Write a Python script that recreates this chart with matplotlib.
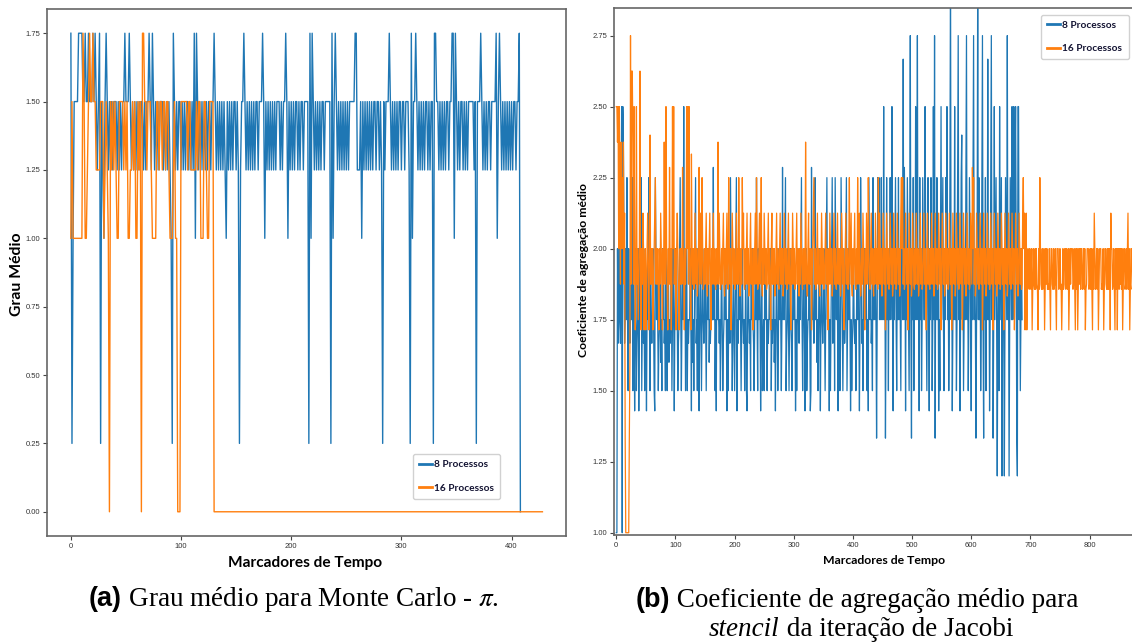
import numpy as np
import matplotlib
matplotlib.use("Agg")
import matplotlib.pyplot as plt
from matplotlib.offsetbox import TextArea, HPacker, AnnotationBbox

plt.rcParams['mathtext.fontset'] = 'stix'

# ---- (a) Monte Carlo - pi : grau medio, one char per time marker ----
levels_a = {'0': 0.0, 'q': 0.25, '4': 1.0, '5': 1.25, '6': 1.5, '7': 1.75}

blue_a = ("7q46666777" "7667667666" "7676567q65" "4676565656" "6656565667"
          "6667656565" "6565665656" "6765765656" "5666565656" "54q7656566"
          "5656566565" "6574765656" "5656566566" "7656565656" "5465656566"
          "565q566765" "6565656566" "5666764656" "5656565666" "5656676465"
          "6565665656" "656666q747" "6565656566" "566666q746" "7656565656"
          "5656666677" "5556465656" "5656566566" "565q656667" "6565656566"
          "56656665q7" "4667656565" "656656566q" "7766565656" "5665667747"
          "6565665656" "56666656q6" "6676565656" "6566667467" "6565656565"
          "656656670")

orange_a = ("4644444444" "4764456766" "7665555666" "4565406565" "6544666656"
            "5644556564" "4656077665" "6665444466" "5665665665" "4445644000"
            "6666665665" "5555656644" "4665446666")
orange_a_zero_tail = 299   # flat at 0 from marker 130 to 428

# ---- (b) stencil Jacobi : coeficiente de agregacao medio ----
levels_b = {'a': 1.0, 'b': 1.2, 'c': 1.333, 'd': 1.429, 'e': 1.5, 'f': 1.6,
            'g': 1.667, 'h': 1.714, 'i': 1.75, 'j': 1.8, 'k': 1.833,
            'l': 1.857, 'm': 1.875, 'n': 2.0, 'o': 2.125, 'p': 2.25,
            'q': 2.286, 'r': 2.333, 's': 2.375, 't': 2.4, 'u': 2.5,
            'v': 2.625, 'w': 2.667, 'x': 2.75, 'y': 2.9, 'z': 3.0}

blue_b = ("aanginignu" "ausnginipi" "eniginipen" "idinegindi" "nipeingien"
          "idinipieni" "giniedpnin" "ieginfieni" "ngiepieinf" "igineinidi"
          "ninieginpi" "einiuinein" "eigiinidnf" "ieinpgieni" "dinieinigi"
          "nieininfig" "iniiqineid" "ninigieini" "egininidie" "ingpniegni"
          "einpdignin" "ieinigiein" "edinigieni" "nigeinipie" "ninidinegi"
          "eninieigin" "ineiginfid" "iniegninie" "iqininpegi" "nieinigein"
          "inidieinig" "ninpieinid" "inegiinide" "qinigipinf" "ieinidinig"
          "inieinpini" "dieinpgine" "pninidnieg" "pnieinginp" "eininidieg"
          "inigieinin" "idipngieni" "ninieidpni" "ngiepinini" "cipnpinipi"
          "niuincipin" "enipinuidn" "inpienipin" "ienpiwiqnd" "nipnienxic"
          "nipeniuinx" "indpineipn" "iiunienpid" "nipneiuixc" "nipindienu"
          "inpienipnu" "ineipzindi" "niuineipxi" "ndiptinein" "ipxineipni"
          "dnipxinici" "nzipineipx" "icnipeniwi" "ndipxinciu" "inpibineui"
          "npbinibipn" "ixinbipniu" "inuipuncbu" "uineini")

orange_b = ("uusunupmsn" "pnsmocaaaa" "aacfxmvvsm" "unhmumnimn" "vmhnmonhmn"
            "hmnomhntmn" "mnhmnopmnm" "nmhnmonmhn" "msnmunmhnm" "qmnhmunumn"
            "mhnonmhmnm" "nmqnmhnmnu" "numunmhrnm" "nlmonmnkmn" "qmonmpnlmn"
            "mnomknmnom" "hnmnomnmln" "mnsmonlmnm" "nomknmnoml" "pnmnhmonmn"
            "mlnomnmpnk" "mnmpnomlnm" "nomnkmnomn" "mhnmnompnl" "mnomnpmknm"
            "onmnlmnomn" "mhnomnmnkm" "nomnmlnomn" "mnkmonmnml" "nomnmhnmon"
            "mnlmnomnmk" "nmonmlnmnm" "snmknomnmn" "hmnopmnlmn" "omnmknmonm"
            "nlmnomnmhn" "monmnkmnom" "nmlnomnmnk" "monmnhmnom" "nmlnpmnomk"
            "nmnomlnmpn" "monkmnmonm" "hnmonmpnml" "nomnmknmon" "mnlpmonmnk"
            "monmnhmonm" "nlmonmnkmo" "nmnlmonmnk" "mopnpmnlmo" "nmnhmonmnk"
            "monmlnmonm" "nkmnomnlmn" "omnmhnomnm" "lnmonmnkmo" "nmnlmonmnh"
            "monmnkmonm" "nlmonmnhmo" "nmnkmonmnl" "monmnhmonm" "nkmonmnlmo"
            "nmqnpmnkmo" "nmnlmonmnh" "monmnkmonm" "nlmonmnhmo" "nmnkmonmnl"
            "monmnhmonm" "nkmonmnlmo" "nmnhmonmnk" "monmnlmopn" "ohnohmnmln"
            "mlnhlnmlnl" "nmlhnlpnml" "nlmnhlnmnl" "mlnlhnnmln" "lmnlhnnnlm"
            "nlmhlnlmnn" "lnmlnhlnmn" "nnlmnlhnln" "hlnmnlnnlm" "nlnhlmnnnl"
            "mnlnlhnlon" "lmnlnhlnnn" "lmlnhlnnml" "nlnlnhonnl" "mnlhnlnhnn"
            "lnmnlnhlnn" "lmnlnolnhl" "nnlmnlhnln" "n")

legend_labels = ['8 Processos', '16 Processos']
xticks_a = [0, 100, 200, 300, 400]
yticks_a = [0.0, 0.25, 0.5, 0.75, 1.0, 1.25, 1.5, 1.75]
xticks_b = [0, 100, 200, 300, 400, 500, 600, 700, 800]
yticks_b = [1.0, 1.25, 1.5, 1.75, 2.0, 2.25, 2.5, 2.75]


def decode(codes, levels):
    return np.array([levels[c] for c in codes])


y_blue_a = decode(blue_a, levels_a)
y_orange_a = np.concatenate([decode(orange_a, levels_a), np.zeros(orange_a_zero_tail)])
y_blue_b = decode(blue_b, levels_b)
y_orange_b = decode(orange_b, levels_b)

W, H = 1132, 642
fig = plt.figure(figsize=(W / 100, H / 100), dpi=100)


def px_axes(x0, x1, y_top, y_bot):
    return fig.add_axes([x0 / W, (H - y_bot) / H, (x1 - x0) / W, (y_bot - y_top) / H])


tick_font = ['Liberation Sans', 'DejaVu Sans']
label_font = ['Lato', 'DejaVu Sans']
blue, orange = '#1f77b4', '#ff7f0e'


def style(ax):
    for s in ax.spines.values():
        s.set_color('#666666')
        s.set_linewidth(1.2)
    ax.tick_params(length=3, width=0.8, color='#444444', labelsize=5.5,
                   labelcolor='#333333', pad=2)
    for lab in ax.get_xticklabels() + ax.get_yticklabels():
        lab.set_family(tick_font)


def add_legend(ax, x_left, y_top):
    leg = ax.legend(loc='upper left', bbox_to_anchor=(x_left / W, (H - y_top) / H),
                    bbox_transform=fig.transFigure, borderaxespad=0,
                    prop={'family': label_font, 'weight': 'bold', 'size': 7.3},
                    handlelength=1.3, handletextpad=0.25, labelspacing=1.4,
                    borderpad=0.6, edgecolor='#cccccc', framealpha=0.9)
    for l in leg.get_lines():
        l.set_linewidth(2)
    for t in leg.get_texts():
        t.set_color('#141433')


# ----- panel (a) -----
ax1 = px_axes(47.3, 566, 9.3, 535.7)
ax1.plot(np.arange(len(y_blue_a)), y_blue_a, color=blue, lw=1.0, label=legend_labels[0])
ax1.plot(np.arange(len(y_orange_a)), y_orange_a, color=orange, lw=1.0, label=legend_labels[1])
ax1.set_xlim(-21.4, 449.4)
ax1.set_ylim(-0.0875, 1.8375)
ax1.set_xticks(xticks_a)
ax1.set_yticks(yticks_a)
ax1.set_yticklabels(['%.2f' % v for v in yticks_a])
style(ax1)
ax1.set_xlabel('Marcadores de Tempo', family=label_font, weight='bold', size=11.1, va='center')
ax1.xaxis.set_label_coords(0.496, -0.0513)
ax1.set_ylabel('Grau Médio', family=label_font, weight='bold', size=11.3, va='center')
ax1.yaxis.set_label_coords(-0.059, 0.497)
add_legend(ax1, 412.5, 454.3)

# ----- panel (b) -----
ax2 = px_axes(614, 1132, 8.3, 535)
ax2.plot(np.arange(len(y_blue_b)), y_blue_b, color=blue, lw=0.9, label=legend_labels[0])
ax2.plot(np.arange(len(y_orange_b)), y_orange_b, color=orange, lw=0.9, label=legend_labels[1])
ax2.set_xlim(-3.9, 871.8)
ax2.set_ylim(0.992, 2.846)
ax2.set_xticks(xticks_b)
ax2.set_yticks(yticks_b)
ax2.set_yticklabels(['%.2f' % v for v in yticks_b])
ax2.spines['right'].set_visible(False)
style(ax2)
ax2.set_xlabel('Marcadores de Tempo', family=label_font, weight='bold', size=8.8, va='center')
ax2.xaxis.set_label_coords(0.521, -0.0488)
ax2.set_ylabel('Coeficiente de agregação médio', family=label_font, weight='bold', size=8.8, va='center')
ax2.yaxis.set_label_coords(-0.058, 0.503)
add_legend(ax2, 1040.7, 14.7)

# ----- captions -----
cap_size = 19.5
sans_b = dict(family='Liberation Sans', weight='bold', size=cap_size)
serif = dict(family='Liberation Serif', size=cap_size)
serif_i = dict(family='Liberation Serif', style='italic', size=cap_size)


def caption(parts, xc, yc):
    box = HPacker(children=[TextArea(s, textprops=p) for s, p in parts],
                  align='baseline', pad=0, sep=0)
    ab = AnnotationBbox(box, (xc / W, (H - yc) / H), xycoords='figure fraction',
                        frameon=False, box_alignment=(0.5, 0.5), pad=0)
    fig.add_artist(ab)


caption([('(a)', sans_b), (r' Grau médio para Monte Carlo - $\pi$.', serif)], 293.5, 600)
caption([('(b)', sans_b), (' Coeficiente de agregação médio para', serif)], 857, 600)
caption([('stencil', serif_i), (' da iteração de Jacobi', serif)], 861, 629)

fig.savefig('out.png', dpi=100)
